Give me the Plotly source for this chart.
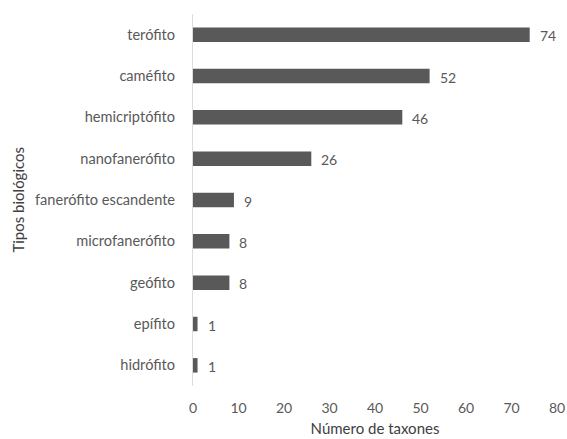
import plotly.graph_objects as go

# Tipos biológicos y número de taxones
categorias = ["terófito", "caméfito", "hemicriptófito", "nanofanerófito",
              "fanerófito escandente", "microfanerófito", "geófito",
              "epífito", "hidrófito"]
taxones = [74, 52, 46, 26, 9, 8, 8, 1, 1]
ticks_x = [0, 10, 20, 30, 40, 50, 60, 70, 80]

FONT = "Lato"
GRIS = "#595959"

fig = go.Figure(go.Bar(
    x=taxones,
    y=categorias,
    orientation="h",
    marker=dict(color=GRIS, line=dict(width=0)),
    width=0.35,
    showlegend=False,
))

# Etiquetas de valor a la derecha de cada barra
for cat, val in zip(categorias, taxones):
    fig.add_annotation(x=val, y=cat, text=str(val), showarrow=False,
                       xanchor="left", xshift=8, yshift=-1,
                       font=dict(family=FONT, size=14, color=GRIS))

# Título del eje vertical
fig.add_annotation(x=-0.482, y=0.5, xref="paper", yref="paper",
                   xanchor="center", yanchor="middle",
                   text="Tipos biológicos", textangle=-90, showarrow=False,
                   font=dict(family=FONT, size=15, color="#404040"))

fig.update_layout(
    width=567, height=439,
    margin=dict(l=193, r=10, t=14, b=53, autoexpand=False),
    paper_bgcolor="white", plot_bgcolor="white",
    font=dict(family=FONT, size=14, color=GRIS),
    xaxis=dict(range=[0, 80], tickvals=ticks_x, showgrid=False, zeroline=False,
               showline=False, ticks="", ticklabelstandoff=12, automargin=False,
               title=dict(text="Número de taxones", standoff=8,
                          font=dict(family=FONT, size=15, color="#404040"))),
    yaxis=dict(categoryorder="array", categoryarray=categorias[::-1],
               showgrid=False, zeroline=False, showline=True,
               linecolor="#dcdcdc", linewidth=1, ticks="",
               tickfont=dict(family=FONT, size=14.6, color=GRIS),
               ticklabelstandoff=14, automargin=False),
)

fig.write_html("out.html")
